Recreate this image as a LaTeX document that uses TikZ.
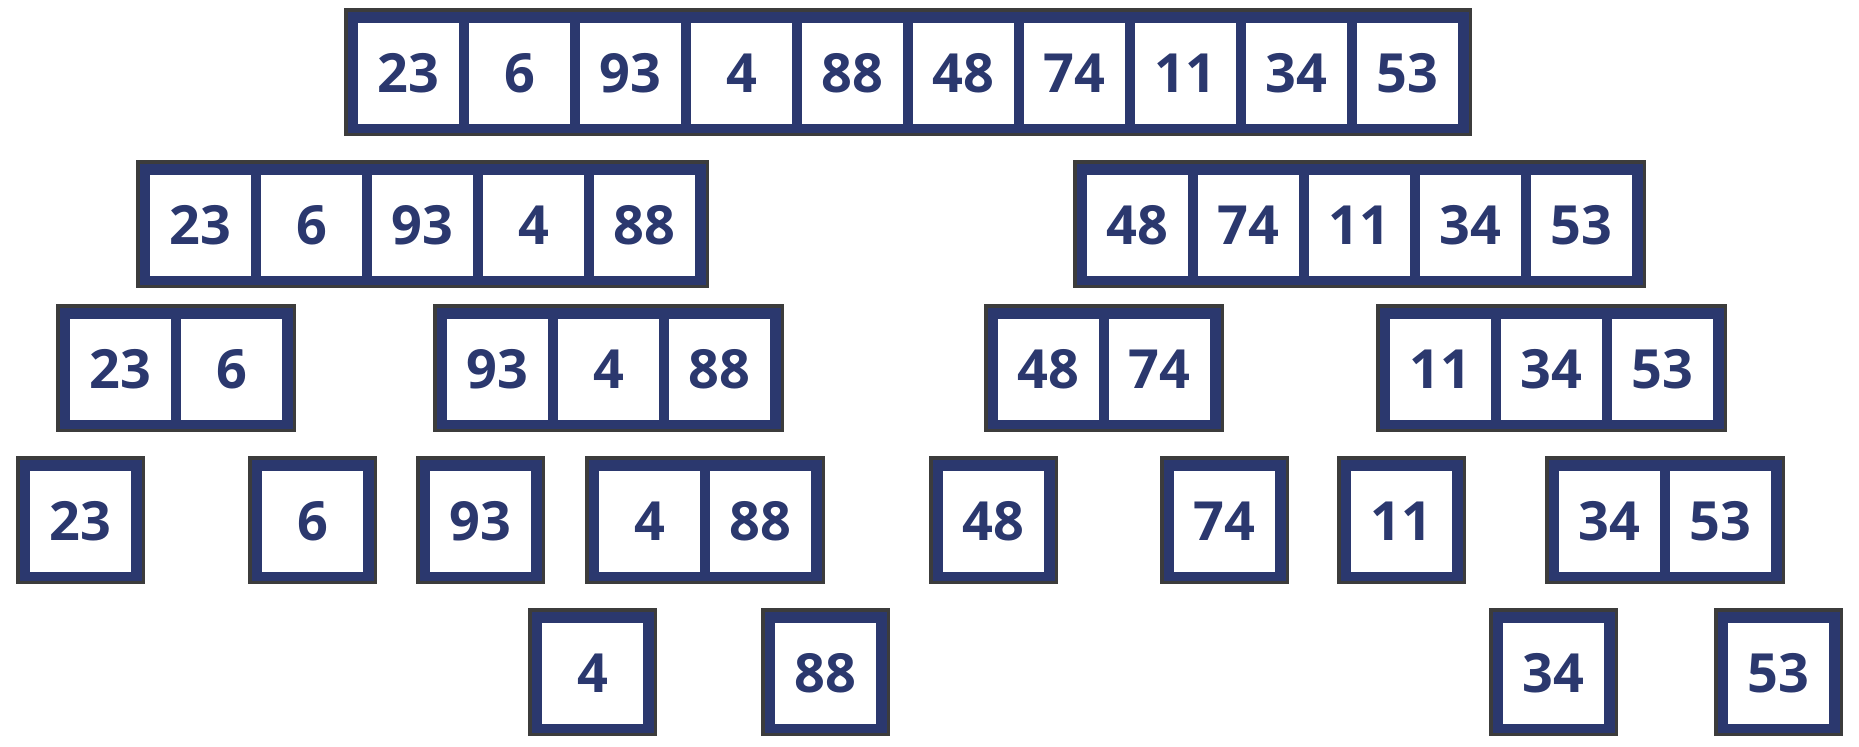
\documentclass[tikz,border=0pt]{standalone}
\usepackage{fontspec}
\setmainfont{Open Sans}
\definecolor{boxnavy}{RGB}{43,56,110}
\definecolor{boxgray}{RGB}{60,60,60}
\tikzset{every picture/.style={line width=0.75pt},
  frame/.style={draw=boxgray, fill=boxnavy, line width=1.75pt},
  cell/.style={fill=white, inner sep=0pt, minimum size=50.5pt, text=boxnavy, font=\fontsize{27}{30}\selectfont\bfseries}}

\begin{document}
\begin{tikzpicture}[x=0.5pt,y=0.5pt,yscale=-1,xscale=1]
\useasboundingbox (0,0) rectangle (1859,746);

%Shape: Rectangle [row 1]
\draw [frame] (345.75,9.75) rectangle (1470.25,134.25);
% Text Node
\node [cell] (a1) at (408.5,73.5) {23};
\node [cell] (a2) at (519.5,73.5) {6};
\node [cell] (a3) at (630.5,73.5) {93};
\node [cell] (a4) at (741.5,73.5) {4};
\node [cell] (a5) at (852.5,73.5) {88};
\node [cell] (a6) at (963.5,73.5) {48};
\node [cell] (a7) at (1074.5,73.5) {74};
\node [cell] (a8) at (1185.5,73.5) {11};
\node [cell] (a9) at (1296.5,73.5) {34};
\node [cell] (a10) at (1407.5,73.5) {53};

%Shape: Rectangle [row 2]
\draw [frame] (137.75,161.75) rectangle (707.25,286.25);
\draw [frame] (1074.75,161.75) rectangle (1644.25,286.25);
% Text Node
\node [cell] (b1) at (200.5,225.5) {23};
\node [cell] (b2) at (311.5,225.5) {6};
\node [cell] (b3) at (422.5,225.5) {93};
\node [cell] (b4) at (533.5,225.5) {4};
\node [cell] (b5) at (644.5,225.5) {88};
\node [cell] (b6) at (1137.5,225.5) {48};
\node [cell] (b7) at (1248.5,225.5) {74};
\node [cell] (b8) at (1359.5,225.5) {11};
\node [cell] (b9) at (1470.5,225.5) {34};
\node [cell] (b10) at (1581.5,225.5) {53};

%Shape: Rectangle [row 3]
\draw [frame] (57.75,305.75) rectangle (294.25,430.25);
\draw [frame] (434.75,305.75) rectangle (782.25,430.25);
\draw [frame] (985.75,305.75) rectangle (1222.25,430.25);
\draw [frame] (1377.75,305.75) rectangle (1725.25,430.25);
% Text Node
\node [cell] (c1) at (120.5,369.5) {23};
\node [cell] (c2) at (231.5,369.5) {6};
\node [cell] (c3) at (497.5,369.5) {93};
\node [cell] (c4) at (608.5,369.5) {4};
\node [cell] (c5) at (719.5,369.5) {88};
\node [cell] (c6) at (1048.5,369.5) {48};
\node [cell] (c7) at (1159.5,369.5) {74};
\node [cell] (c8) at (1440.5,369.5) {11};
\node [cell] (c9) at (1551.5,369.5) {34};
\node [cell] (c10) at (1662.5,369.5) {53};

%Shape: Rectangle [row 4]
\draw [frame] (17.75,457.75) rectangle (143.25,582.25);
\draw [frame] (249.75,457.75) rectangle (375.25,582.25);
\draw [frame] (417.75,457.75) rectangle (543.25,582.25);
\draw [frame] (586.75,457.75) rectangle (823.25,582.25);
\draw [frame] (930.75,457.75) rectangle (1056.25,582.25);
\draw [frame] (1161.75,457.75) rectangle (1287.25,582.25);
\draw [frame] (1338.75,457.75) rectangle (1464.25,582.25);
\draw [frame] (1546.75,457.75) rectangle (1783.25,582.25);
% Text Node
\node [cell] (d1) at (80.5,521.5) {23};
\node [cell] (d2) at (312.5,521.5) {6};
\node [cell] (d3) at (480.5,521.5) {93};
\node [cell] (d4) at (649.5,521.5) {4};
\node [cell] (d5) at (760.5,521.5) {88};
\node [cell] (d6) at (993.5,521.5) {48};
\node [cell] (d7) at (1224.5,521.5) {74};
\node [cell] (d8) at (1401.5,521.5) {11};
\node [cell] (d9) at (1609.5,521.5) {34};
\node [cell] (d10) at (1720.5,521.5) {53};

%Shape: Rectangle [row 5]
\draw [frame] (529.75,609.75) rectangle (655.25,734.25);
\draw [frame] (762.75,609.75) rectangle (888.25,734.25);
\draw [frame] (1490.75,609.75) rectangle (1616.25,734.25);
\draw [frame] (1715.75,609.75) rectangle (1841.25,734.25);
% Text Node
\node [cell] (e1) at (592.5,673.5) {4};
\node [cell] (e2) at (825.5,673.5) {88};
\node [cell] (e3) at (1553.5,673.5) {34};
\node [cell] (e4) at (1778.5,673.5) {53};

\end{tikzpicture}
\end{document}
